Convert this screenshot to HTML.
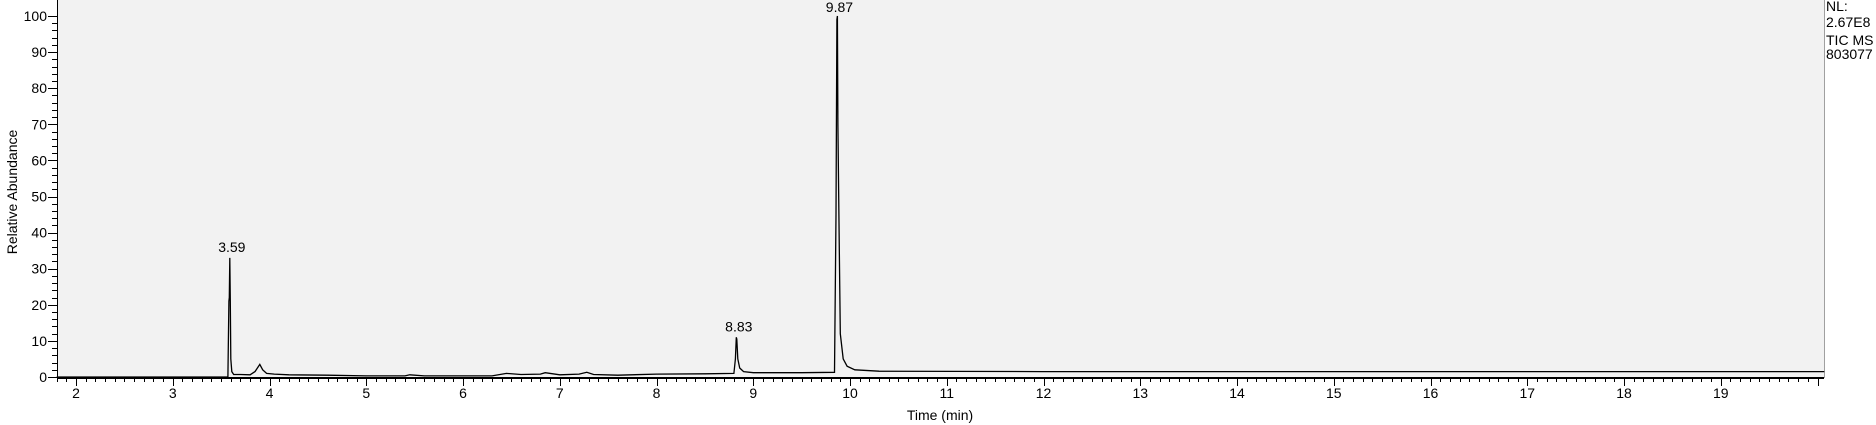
<!DOCTYPE html>
<html><head><meta charset="utf-8">
<style>
html,body{margin:0;padding:0;background:#fff;width:1876px;height:425px;overflow:hidden}
svg text{font-family:"Liberation Sans",Arial,sans-serif;fill:#000}
</style></head>
<body>
<svg id="chart" width="1876" height="425" xmlns="http://www.w3.org/2000/svg">
<rect x="57" y="0" width="1767" height="378" fill="#f2f2f2"/>
<line x1="57.5" y1="0" x2="57.5" y2="378" stroke="#a0a0a0"/>
<line x1="1824.5" y1="0" x2="1824.5" y2="378" stroke="#a0a0a0"/>
<g id="axes"></g>
<path id="trace" fill="none" stroke="#000" stroke-width="1.3"/>
<g id="labels"></g>
<text transform="translate(17,192) rotate(-90)" text-anchor="middle" font-size="14">Relative Abundance</text>
<text x="940" y="420" text-anchor="middle" font-size="14">Time (min)</text>
<text x="1826" y="11" font-size="14">NL:</text>
<text x="1826" y="27" font-size="14">2.67E8</text>
<text x="1826" y="45" font-size="14">TIC  MS</text>
<text x="1826" y="59" font-size="14">803077</text>
</svg>
<script>
const xTicks=[2,3,4,5,6,7,8,9,10,11,12,13,14,15,16,17,18,19];
const yTicks=[0,10,20,30,40,50,60,70,80,90,100];
const times=[1.8,3.57,3.58,3.585,3.59,3.595,3.60,3.61,3.63,3.7,3.8,3.85,3.9,3.93,3.97,4.05,4.2,4.6,5.0,5.4,5.45,5.6,6.3,6.45,6.6,6.8,6.85,7.0,7.2,7.28,7.35,7.6,8.0,8.5,8.8,8.815,8.825,8.83,8.84,8.86,8.9,9.0,9.5,9.84,9.855,9.865,9.87,9.875,9.885,9.9,9.93,9.97,10.05,10.3,12,15,18,20.07];
const abund=[0,0,21,22,33,21,5,1.5,0.7,0.7,0.6,1.5,3.5,2,1,0.8,0.6,0.5,0.3,0.3,0.6,0.3,0.3,1,0.7,0.8,1.2,0.6,0.8,1.3,0.7,0.5,0.8,0.9,1,5,11,10.5,5,2.5,1.5,1.2,1.2,1.3,45,99,100,70,45,12,5,3,2,1.6,1.5,1.5,1.5,1.5];
const labelTimes=[3.59,8.83,9.87];
const labelAbund=[33,11,100];
const NS="http://www.w3.org/2000/svg";
const X=t=>76+(t-2)*96.75;
const Y=v=>377-v*3.61;
const axes=document.getElementById('axes');
function ln(x1,y1,x2,y2,w,name){const l=document.createElementNS(NS,'line');l.setAttribute('x1',x1);l.setAttribute('y1',y1);l.setAttribute('x2',x2);l.setAttribute('y2',y2);l.setAttribute('stroke','#000');l.setAttribute('stroke-width',w);


axes.appendChild(l);}
function tx(x,y,s,anchor,name,size){const e=document.createElementNS(NS,'text');e.setAttribute('x',x);e.setAttribute('y',y);e.setAttribute('text-anchor',anchor);e.setAttribute('font-size',size);e.textContent=s;


return e;}
ln(57,378,1824,378,2,'x-axis-line');
ln(57.5,0,57.5,378,1,'y-axis-line');
for(let t=1.8;t<=20.05;t+=0.1){const r=Math.round(t*10)/10;const major=Math.abs(r-Math.round(r))<1e-6;const x=Math.round(X(r))+0.5;ln(x,379,x,major?386:382,1,'x-tick');}
xTicks.forEach(t=>axes.appendChild(tx(X(t),398,String(t),'middle','x-tick-label',14)));
for(let v=0;v<=100;v+=2){const y=Math.round(Y(v))+0.5;ln(v%10===0?48:52,y,57,y,1,'y-tick');}
yTicks.forEach(v=>axes.appendChild(tx(47,Y(v)+5,String(v),'end','y-tick-label',14)));
let d='';times.forEach((t,i)=>{d+=(i?'L':'M')+X(t).toFixed(1)+','+Y(abund[i]).toFixed(1);});
document.getElementById('trace').setAttribute('d',d);
const lg=document.getElementById('labels');
labelTimes.forEach((t,i)=>lg.appendChild(tx(X(t)+2,Math.max(Y(labelAbund[i])-6,12),t.toFixed(2),'middle','peak-label',14)));
</script>
</body></html>
